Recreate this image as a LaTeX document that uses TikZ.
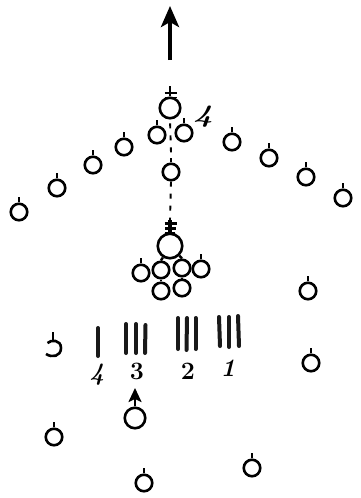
\documentclass[tikz,border=0pt]{standalone}
\usetikzlibrary{arrows.meta}
\tikzset{
  man/.style={circle,draw=black,line width=2.6pt,inner sep=0pt,minimum size=16.5pt},
  bigman/.style={man,minimum size=20.5pt},
  hugeman/.style={man,minimum size=24.5pt},
  stem/.style={line width=2.4pt,line cap=butt},
  bar/.style={line width=4pt,line cap=round,black!90},
  order/.style={line width=1.9pt,dash pattern=on 5pt off 7pt},
  tag/.style={inner sep=0pt,font=\fontsize{25}{25}\selectfont\bfseries},
  slanted tag/.style={tag,font=\fontsize{25}{25}\selectfont\itshape\bfseries}
}
\begin{document}
\begin{tikzpicture}[x=1pt,y=-1pt]
\useasboundingbox (0,0) rectangle (360,498);
% ordinary men: name / x / y
\foreach \n/\x/\y in {
  lA/19/212,lB/57/188,lC/93/165,lD/124/147,lE/157/135,
  rE/184/133,rD/232/142,rC/269/158,rB/306/177,rA/343/198,
  gA/141/273,gD/201/269,
  sR/308/291,sS/311/363,sL/54/437,sB/144/483,sC/252/468}{
  \node[man] (\n) at (\x,\y) {};
  \draw[stem] (\n.north) -- ++(0,-5.5);
}
% men in the centre
\node[man] (mid) at (171,172) {};
\draw[stem] (mid.north) -- ++(0,-4);
\node[bigman] (top) at (170,108) {};
\node[hugeman] (chief) at (170,246) {};
\node[man] (gB) at (161,270) {};
\node[man] (gC) at (182,268) {};
\node[man] (gE) at (161,291) {};
\node[man] (gF) at (182,288) {};
\draw[stem] (gB.north) -- (chief);
\draw[stem] (gC.north) -- (chief);
\draw[stem] (gE.north) -- (gB.south);
\draw[stem] (gF.north) -- (gC.south);
% open circle on the left
\draw[line width=2.6pt] (47.5,343) .. controls (51,339.5) and (61,339.5) .. (61,348) .. controls (61,356.5) and (52,358) .. (46,354);
\draw[stem] (53,341) -- ++(0,-9);
% tufted stems
\coordinate (topTip) at (170,86);
\draw[stem] (top.north) -- (topTip);
\draw[line width=1.9pt] (164.5,93) -- (176.5,93) (164.5,97.5) -- (176.5,97.5);
\coordinate (chiefTip) at (170,220);
\draw[line width=3.2pt] (chief.north) -- (chiefTip);
\draw[line width=2.3pt] (164.5,223.5) -- (176.5,223.5) (165,228.5) -- (176,228.5) (165,233) -- (175,233);
% order of march
\draw[order] (mid.north) ++(0,-10) -- (top.south);
\draw[order] (mid.south) -- (chiefTip);
% big arrow
\coordinate (arrS) at (170,60);
\coordinate (arrE) at (170,6);
\draw[line width=4pt,-{Stealth[length=21pt,width=18pt,inset=5pt]}] (arrS) -- (arrE);
% small arrow
\node[bigman] (adv) at (135,418) {};
\coordinate (advT) at (135,388);
\draw[line width=2.4pt,-{Stealth[length=14pt,width=13pt,inset=3pt]}] (adv.north) -- (advT);
% columns
\draw[bar] (98,328) -- (98,356);
\draw[bar] (126,324) -- (126,353);
\draw[bar] (136,324) -- (136,353);
\draw[bar] (145.5,325) -- (145,353);
\draw[bar] (178,318) -- (178,349);
\draw[bar] (187,318) -- (186.5,350);
\draw[bar] (195.5,318) -- (195.5,349);
\draw[bar] (219,317) -- (220,346);
\draw[bar] (229,317) -- (229,347);
\draw[bar] (238,316) -- (239,346);
% labels
\node[slanted tag] (n4) at (97,375) {4};
\node[tag] (n3) at (137,371) {3};
\node[tag] (n2) at (188,371) {2};
\node[slanted tag] (n1) at (228,368) {1};
\node[slanted tag,xscale=1.35] (t4) at (203,117) {4};
\end{tikzpicture}
\end{document}
